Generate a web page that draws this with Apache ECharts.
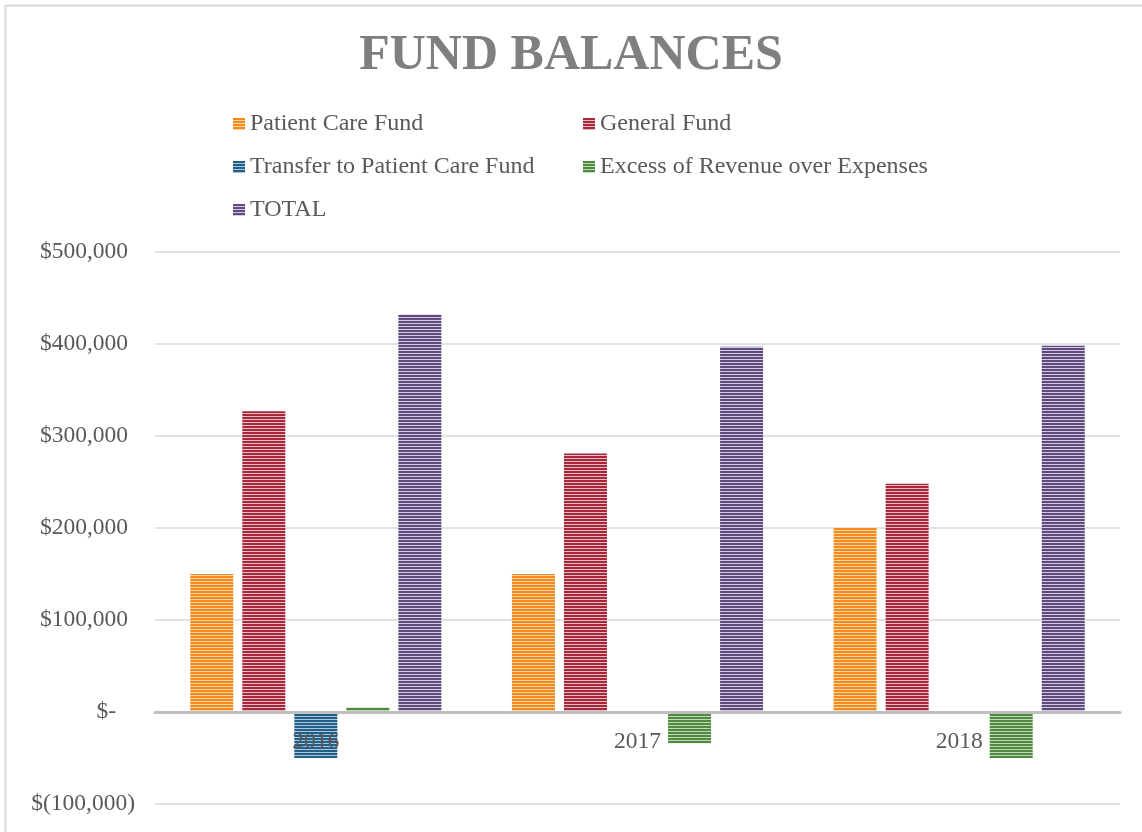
<!DOCTYPE html>
<html>
<head>
<meta charset="utf-8">
<script src="https://cdn.jsdelivr.net/npm/echarts@6/dist/echarts.min.js"></script>
<style>
  html, body { margin: 0; padding: 0; background: #fff; }
  #fund_bar { width: 1142px; height: 832px; }
</style>
</head>
<body>
<div id="fund_bar"></div>
<script>
var years = ['2016', '2017', '2018'];
var patientCare = [150000, 150000, 200000];
var generalFund = [327000, 281000, 248000];
var transferToPatientCare = [-50000, 0, 0];
var excessRevenue = [5000, -34000, -50000];
var totalFund = [432000, 397000, 398000];
var seriesNames = ['Patient Care Fund', 'General Fund', 'Transfer to Patient Care Fund', 'Excess of Revenue over Expenses', 'TOTAL'];

var fontFamily = '"Liberation Serif", "Times New Roman", serif';

// striped fill, 2px dark line + 1px light line
function stripes(dark, light) {
    var c = document.createElement('canvas');
    c.width = 6;
    c.height = 3;
    var ctx = c.getContext('2d');
    ctx.fillStyle = light;
    ctx.fillRect(0, 0, 6, 3);
    ctx.fillStyle = dark;
    ctx.fillRect(0, 0, 6, 2);
    return { image: c, repeat: 'repeat' };
}

var darks = ['#f28a1c', '#a5283b', '#215f88', '#4f8a3f', '#5f4b80'];
var lights = ['#fbd5ab', '#e9bcc4', '#abc7da', '#c0d8b6', '#d2c9de'];
var fills = darks.map(function (d, i) { return stripes(d, lights[i]); });

// accounting style labels: $500,000 / $- / $(100,000)
function money(v) {
    if (v === 0) return '{z|$-}';
    var s = Math.abs(v).toString().replace(/\B(?=(\d{3})+(?!\d))/g, ',');
    return v < 0 ? '{n|$(' + s + ')}' : '{p|$' + s + '}';
}

var legendSpots = [[228, 107], [578, 107], [228, 150], [578, 150], [228, 193]];
var legends = seriesNames.map(function (name, i) {
    return {
        data: [name],
        left: legendSpots[i][0],
        top: legendSpots[i][1],
        icon: 'rect',
        itemWidth: 12,
        itemHeight: 12,
        selectedMode: false,
        textStyle: { fontFamily: fontFamily, fontSize: 24, color: '#595959' }
    };
});

var seriesData = [patientCare, generalFund, transferToPatientCare, excessRevenue, totalFund];
var labelStyle = { fontFamily: fontFamily, fontSize: 23.5, color: '#595959' };

var fund_bar = echarts.init(document.getElementById('fund_bar'));
var fund_option = {
    backgroundColor: '#fff',
    animation: false,
    title: {
        text: 'FUND BALANCES',
        left: 'center',
        top: 26,
        textStyle: {
            fontFamily: fontFamily,
            fontSize: 50,
            fontWeight: 'bold',
            color: '#7f7f7f'
        }
    },
    graphic: [{
        type: 'rect',
        shape: { x: 5.5, y: 5.5, width: 1160, height: 860 },
        style: { fill: 'none', stroke: '#d9d9d9', lineWidth: 2 },
        silent: true
    }],
    legend: legends,
    grid: { left: 155, right: 22, top: 252, bottom: 28, outerBoundsMode: 'none', containLabel: false },
    xAxis: {
        type: 'category',
        data: years,
        position: 'bottom',
        offset: -92,
        z: 5,
        axisLine: { onZero: false, lineStyle: { color: '#bfbfbf', width: 3 } },
        axisTick: { show: false },
        axisLabel: { fontFamily: fontFamily, fontSize: 23.5, color: '#595959', margin: 18 }
    },
    yAxis: {
        type: 'value',
        min: -100000,
        max: 500000,
        interval: 100000,
        axisLine: { show: false },
        axisTick: { show: false },
        splitLine: { lineStyle: { color: '#d9d9d9', width: 1.5 } },
        axisLabel: {
            margin: 20,
            formatter: money,
            rich: {
                p: Object.assign({ padding: [0, 7, 0, 0] }, labelStyle),
                z: Object.assign({ padding: [0, 19, 0, 0] }, labelStyle),
                n: Object.assign({}, labelStyle)
            }
        }
    },
    series: seriesNames.map(function (name, i) {
        return {
            name: name,
            type: 'bar',
            barWidth: 43,
            barGap: '21%',
            data: seriesData[i],
            itemStyle: { color: fills[i] }
        };
    })
};
fund_bar.setOption(fund_option);
</script>
</body>
</html>
